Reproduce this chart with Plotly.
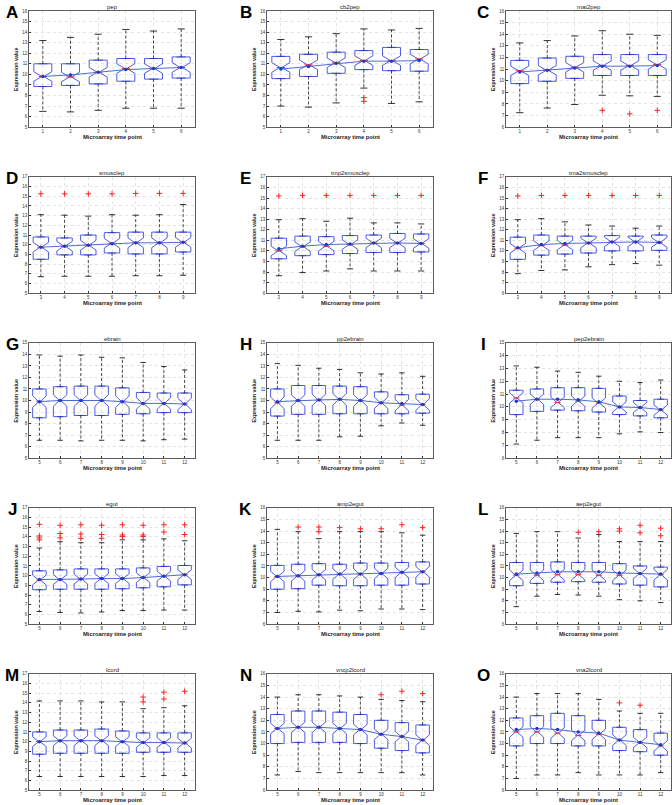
import plotly.graph_objects as go

# ---------------- data ----------------
# A: pep
pep_time = [1, 2, 3, 4, 5, 6]
pep_upper = [13.2, 13.5, 13.8, 14.25, 14.1, 14.3]
pep_q3 = [11.0, 11.0, 11.35, 11.5, 11.5, 11.65]
pep_median = [9.8, 9.75, 10.2, 10.55, 10.55, 10.65]
pep_mean = [9.8, 9.95, 10.2, 10.45, 10.55, 10.65]
pep_q1 = [8.85, 8.95, 9.1, 9.35, 9.55, 9.65]
pep_lower = [6.5, 6.45, 6.6, 6.8, 6.8, 6.8]
pep_outliers = [[], [], [], [], [], []]

# B: cb2pep
cb2pep_time = [1, 2, 3, 4, 5, 6]
cb2pep_upper = [13.3, 13.55, 13.85, 14.3, 14.2, 14.35]
cb2pep_q3 = [11.7, 11.9, 12.1, 12.25, 12.55, 12.35]
cb2pep_median = [10.65, 10.9, 11.1, 11.3, 11.3, 11.45]
cb2pep_mean = [10.5, 10.75, 11.05, 11.25, 11.25, 11.3]
cb2pep_q1 = [9.6, 9.8, 10.1, 10.45, 10.35, 10.3]
cb2pep_lower = [7.0, 6.9, 7.3, 8.7, 7.25, 7.4]
cb2pep_outliers = [[], [], [], [7.8, 7.45], [], []]

# C: mat2pep
mat2pep_time = [1, 2, 3, 4, 5, 6]
mat2pep_upper = [13.25, 13.45, 13.85, 14.3, 14.0, 13.9]
mat2pep_q3 = [11.75, 11.95, 12.1, 12.25, 12.25, 12.25]
mat2pep_median = [10.85, 10.9, 11.15, 11.3, 11.3, 11.4]
mat2pep_mean = [10.75, 10.9, 11.1, 11.25, 11.25, 11.3]
mat2pep_q1 = [9.75, 9.95, 10.2, 10.45, 10.45, 10.45]
mat2pep_lower = [7.25, 7.65, 7.95, 8.75, 8.7, 8.65]
mat2pep_outliers = [[], [], [], [7.45], [7.15], [7.45]]

# D: smusclep
smusclep_time = [3, 4, 5, 6, 7, 8, 9]
smusclep_upper = [13.1, 13.05, 12.95, 13.1, 13.05, 13.1, 14.15]
smusclep_q3 = [10.8, 10.7, 11.0, 11.25, 11.3, 11.3, 11.3]
smusclep_median = [9.75, 9.85, 9.95, 10.15, 10.2, 10.2, 10.25]
smusclep_mean = [9.75, 9.85, 9.95, 10.1, 10.2, 10.2, 10.25]
smusclep_q1 = [8.5, 8.95, 8.95, 9.15, 9.05, 9.05, 9.25]
smusclep_lower = [6.7, 6.75, 6.75, 6.75, 6.8, 6.8, 6.85]
smusclep_outliers = [[15.25], [15.25], [15.25], [15.25], [15.3], [15.3], [15.3]]

# E: tmp2smusclep
tmp2_time = [3, 4, 5, 6, 7, 8, 9]
tmp2_upper = [12.95, 13.05, 12.8, 13.1, 12.65, 12.65, 12.55]
tmp2_q3 = [11.2, 11.4, 11.35, 11.45, 11.5, 11.65, 11.6]
tmp2_median = [10.0, 10.4, 10.45, 10.6, 10.75, 10.75, 10.7]
tmp2_mean = [10.2, 10.45, 10.6, 10.65, 10.75, 10.75, 10.7]
tmp2_q1 = [9.25, 9.55, 9.65, 9.75, 9.85, 9.85, 9.9]
tmp2_lower = [7.65, 7.95, 8.1, 8.3, 8.1, 8.1, 8.1]
tmp2_outliers = [[15.2], [15.25], [15.25], [15.25], [15.25], [15.25], [15.25]]

# F: tma2smusclep
tma2_time = [3, 4, 5, 6, 7, 8, 9]
tma2_upper = [12.95, 13.05, 12.75, 12.45, 12.35, 12.15, 12.35]
tma2_q3 = [11.3, 11.5, 11.4, 11.4, 11.45, 11.4, 11.5]
tma2_median = [10.25, 10.5, 10.55, 10.75, 10.85, 10.85, 10.8]
tma2_mean = [10.3, 10.6, 10.7, 10.75, 10.85, 10.85, 10.8]
tma2_q1 = [9.2, 9.6, 9.7, 9.8, 10.0, 10.0, 10.05]
tma2_lower = [7.85, 8.15, 8.2, 8.5, 8.7, 8.8, 8.65]
tma2_outliers = [[15.2], [15.25], [15.25], [15.25], [15.25], [15.25], [15.25]]

# G: ebrain
ebrain_time = [5, 6, 7, 8, 9, 10, 11, 12]
ebrain_upper = [13.95, 13.85, 13.95, 13.75, 13.7, 13.3, 12.95, 12.65]
ebrain_q3 = [11.0, 11.2, 11.25, 11.25, 11.1, 10.7, 10.65, 10.65]
ebrain_median = [9.9, 10.0, 10.0, 10.0, 9.9, 9.75, 9.75, 9.7]
ebrain_mean = [9.9, 10.0, 10.0, 10.0, 9.9, 9.75, 9.75, 9.7]
ebrain_q1 = [8.5, 8.6, 8.7, 8.7, 8.8, 8.85, 8.95, 8.95]
ebrain_lower = [6.55, 6.55, 6.5, 6.55, 6.55, 6.5, 6.6, 6.65]
ebrain_outliers = [[], [], [], [], [], [], [], []]

# H: pp2ebrain
pp2_time = [5, 6, 7, 8, 9, 10, 11, 12]
pp2_upper = [13.2, 13.05, 12.8, 12.7, 12.4, 12.3, 12.4, 12.1]
pp2_q3 = [11.0, 11.3, 11.3, 11.25, 11.2, 10.75, 10.5, 10.55]
pp2_median = [9.8, 10.0, 10.05, 10.1, 10.0, 9.8, 9.6, 9.65]
pp2_mean = [9.9, 10.0, 10.05, 10.1, 10.0, 9.8, 9.75, 9.65]
pp2_q1 = [8.65, 8.8, 8.8, 8.85, 8.85, 8.85, 8.85, 8.9]
pp2_lower = [6.55, 6.55, 6.55, 6.85, 6.9, 7.8, 8.05, 7.85]
pp2_outliers = [[], [], [], [], [], [], [], []]

# I: pep2ebrain
pep2_time = [5, 6, 7, 8, 9, 10, 11, 12]
pep2_upper = [13.2, 13.1, 12.8, 12.7, 12.4, 12.0, 11.9, 12.1]
pep2_q3 = [11.3, 11.4, 11.5, 11.5, 11.45, 10.85, 10.5, 10.6]
pep2_median = [10.7, 10.6, 10.35, 10.45, 10.3, 10.0, 9.95, 9.75]
pep2_mean = [10.45, 10.6, 10.6, 10.55, 10.4, 10.0, 9.95, 9.8]
pep2_q1 = [9.4, 9.65, 9.75, 9.7, 9.6, 9.4, 9.3, 9.15]
pep2_lower = [7.1, 7.4, 7.6, 7.6, 7.6, 7.9, 8.05, 8.0]
pep2_outliers = [[], [], [], [], [], [], [], []]

# J: egut
egut_time = [5, 6, 7, 8, 9, 10, 11, 12]
egut_upper = [12.85, 13.5, 13.4, 13.4, 13.7, 13.7, 13.8, 13.6]
egut_q3 = [10.5, 10.6, 10.7, 10.7, 10.7, 10.8, 10.95, 11.05]
egut_median = [9.55, 9.6, 9.65, 9.7, 9.7, 9.8, 9.95, 10.1]
egut_mean = [9.6, 9.6, 9.65, 9.7, 9.7, 9.8, 9.95, 10.1]
egut_q1 = [8.55, 8.6, 8.6, 8.6, 8.65, 8.75, 8.85, 9.05]
egut_lower = [6.3, 6.2, 6.15, 6.25, 6.4, 6.4, 6.45, 6.45]
egut_outliers = [[15.3, 14.1, 13.9, 13.7], [15.2, 14.35, 13.9], [15.25, 14.3, 13.85],
                 [15.2, 14.25, 13.85], [15.25, 14.2, 14.05], [15.2, 14.2, 14.05],
                 [15.25, 14.5], [15.25, 14.25]]

# K: amp2egut
amp2_time = [5, 6, 7, 8, 9, 10, 11, 12]
amp2_upper = [14.15, 13.95, 13.35, 13.95, 13.95, 13.95, 13.85, 13.65]
amp2_q3 = [11.05, 11.15, 11.2, 11.15, 11.25, 11.25, 11.3, 11.35]
amp2_median = [10.1, 10.15, 10.25, 10.3, 10.3, 10.35, 10.45, 10.5]
amp2_mean = [10.1, 10.15, 10.25, 10.3, 10.3, 10.35, 10.45, 10.5]
amp2_q1 = [9.0, 9.05, 9.35, 9.3, 9.3, 9.35, 9.35, 9.45]
amp2_lower = [7.0, 7.1, 7.05, 7.2, 7.15, 7.3, 7.3, 7.25]
amp2_outliers = [[], [14.35], [14.35, 13.95], [14.3], [14.2], [14.2], [14.55], [14.3]]

# L: aep2egut
aep2_time = [5, 6, 7, 8, 9, 10, 11, 12]
aep2_upper = [13.8, 13.95, 13.95, 13.4, 13.7, 13.1, 13.1, 13.1]
aep2_q3 = [11.3, 11.3, 11.35, 11.3, 11.3, 11.2, 11.0, 10.9]
aep2_median = [10.2, 10.2, 10.25, 10.25, 10.2, 10.2, 10.35, 10.25]
aep2_mean = [10.3, 10.4, 10.5, 10.5, 10.5, 10.4, 10.35, 10.3]
aep2_q1 = [9.3, 9.5, 9.6, 9.65, 9.6, 9.45, 9.35, 9.2]
aep2_lower = [7.5, 8.4, 8.55, 8.5, 8.4, 8.1, 8.0, 7.85]
aep2_outliers = [[], [], [], [13.9], [13.95], [14.2, 14.0], [14.5, 13.85], [14.25, 13.6]]

# M: lcord
lcord_time = [5, 6, 7, 8, 9, 10, 11, 12]
lcord_upper = [14.2, 14.2, 14.2, 14.1, 14.1, 13.4, 13.5, 13.7]
lcord_q3 = [11.0, 11.2, 11.2, 11.3, 11.1, 10.9, 10.9, 10.9]
lcord_median = [10.0, 10.1, 10.1, 10.1, 10.0, 9.9, 9.9, 9.85]
lcord_mean = [10.0, 10.1, 10.1, 10.1, 10.0, 9.9, 9.9, 9.85]
lcord_q1 = [8.7, 8.8, 8.8, 8.8, 8.8, 8.9, 8.9, 8.9]
lcord_lower = [6.4, 6.4, 6.4, 6.4, 6.4, 6.4, 6.5, 6.5]
lcord_outliers = [[], [], [], [], [], [14.6, 14.1], [15.1, 14.4], [15.2]]

# N: vncp2lcord
vncp2_time = [5, 6, 7, 8, 9, 10, 11, 12]
vncp2_upper = [14.0, 14.2, 14.2, 14.1, 14.0, 13.8, 13.7, 13.6]
vncp2_q3 = [12.5, 12.8, 12.8, 12.7, 12.5, 12.0, 11.8, 11.6]
vncp2_median = [11.3, 11.4, 11.4, 11.3, 11.2, 10.8, 10.6, 10.3]
vncp2_mean = [11.3, 11.4, 11.4, 11.3, 11.2, 10.8, 10.6, 10.3]
vncp2_q1 = [10.0, 10.1, 10.1, 10.1, 10.0, 9.6, 9.4, 9.2]
vncp2_lower = [7.3, 7.6, 7.5, 7.5, 7.5, 7.5, 7.5, 7.3]
vncp2_outliers = [[], [], [], [], [], [14.2], [14.5], [14.3]]

# O: vna2lcord
vna2_time = [5, 6, 7, 8, 9, 10, 11, 12]
vna2_upper = [14.0, 14.3, 14.3, 14.3, 13.8, 12.8, 12.6, 12.6]
vna2_q3 = [12.2, 12.4, 12.6, 12.4, 12.0, 11.4, 11.2, 10.9]
vna2_median = [11.0, 11.0, 10.9, 10.7, 10.8, 10.3, 10.1, 9.8]
vna2_mean = [11.2, 11.3, 11.2, 11.0, 10.9, 10.3, 10.1, 9.9]
vna2_q1 = [9.8, 10.0, 10.0, 9.8, 9.8, 9.4, 9.3, 9.0]
vna2_lower = [7.0, 7.3, 7.3, 7.5, 7.3, 7.3, 7.3, 7.5]
vna2_outliers = [[], [], [], [], [], [13.5], [13.3], []]

PANELS = [
    dict(letter="A", name="pep", t=pep_time, up=pep_upper, q3=pep_q3, med=pep_median, mean=pep_mean,
         q1=pep_q1, low=pep_lower, out=pep_outliers, notch=0.45, yr=[5, 16]),
    dict(letter="B", name="cb2pep", t=cb2pep_time, up=cb2pep_upper, q3=cb2pep_q3, med=cb2pep_median,
         mean=cb2pep_mean, q1=cb2pep_q1, low=cb2pep_lower, out=cb2pep_outliers, notch=0.45, yr=[5, 16]),
    dict(letter="C", name="mat2pep", t=mat2pep_time, up=mat2pep_upper, q3=mat2pep_q3, med=mat2pep_median,
         mean=mat2pep_mean, q1=mat2pep_q1, low=mat2pep_lower, out=mat2pep_outliers, notch=0.4, yr=[6, 16]),
    dict(letter="D", name="smusclep", t=smusclep_time, up=smusclep_upper, q3=smusclep_q3,
         med=smusclep_median, mean=smusclep_mean, q1=smusclep_q1, low=smusclep_lower,
         out=smusclep_outliers, notch=0.5, yr=[5, 17]),
    dict(letter="E", name="tmp2smusclep", t=tmp2_time, up=tmp2_upper, q3=tmp2_q3, med=tmp2_median,
         mean=tmp2_mean, q1=tmp2_q1, low=tmp2_lower, out=tmp2_outliers, notch=0.45, yr=[6, 17]),
    dict(letter="F", name="tma2smusclep", t=tma2_time, up=tma2_upper, q3=tma2_q3, med=tma2_median,
         mean=tma2_mean, q1=tma2_q1, low=tma2_lower, out=tma2_outliers, notch=0.45, yr=[6, 17]),
    dict(letter="G", name="ebrain", t=ebrain_time, up=ebrain_upper, q3=ebrain_q3, med=ebrain_median,
         mean=ebrain_mean, q1=ebrain_q1, low=ebrain_lower, out=ebrain_outliers, notch=0.5, yr=[5, 15]),
    dict(letter="H", name="pp2ebrain", t=pp2_time, up=pp2_upper, q3=pp2_q3, med=pp2_median,
         mean=pp2_mean, q1=pp2_q1, low=pp2_lower, out=pp2_outliers, notch=0.5, yr=[5, 15]),
    dict(letter="I", name="pep2ebrain", t=pep2_time, up=pep2_upper, q3=pep2_q3, med=pep2_median,
         mean=pep2_mean, q1=pep2_q1, low=pep2_lower, out=pep2_outliers, notch=0.4, yr=[6, 15]),
    dict(letter="J", name="egut", t=egut_time, up=egut_upper, q3=egut_q3, med=egut_median,
         mean=egut_mean, q1=egut_q1, low=egut_lower, out=egut_outliers, notch=0.5, yr=[5, 17]),
    dict(letter="K", name="amp2egut", t=amp2_time, up=amp2_upper, q3=amp2_q3, med=amp2_median,
         mean=amp2_mean, q1=amp2_q1, low=amp2_lower, out=amp2_outliers, notch=0.45, yr=[6, 16]),
    dict(letter="L", name="aep2egut", t=aep2_time, up=aep2_upper, q3=aep2_q3, med=aep2_median,
         mean=aep2_mean, q1=aep2_q1, low=aep2_lower, out=aep2_outliers, notch=0.45, yr=[6, 16]),
    dict(letter="M", name="lcord", t=lcord_time, up=lcord_upper, q3=lcord_q3, med=lcord_median,
         mean=lcord_mean, q1=lcord_q1, low=lcord_lower, out=lcord_outliers, notch=0.5, yr=[5, 17]),
    dict(letter="N", name="vncp2lcord", t=vncp2_time, up=vncp2_upper, q3=vncp2_q3, med=vncp2_median,
         mean=vncp2_mean, q1=vncp2_q1, low=vncp2_lower, out=vncp2_outliers, notch=0.45, yr=[6, 16]),
    dict(letter="O", name="vna2lcord", t=vna2_time, up=vna2_upper, q3=vna2_q3, med=vna2_median,
         mean=vna2_mean, q1=vna2_q1, low=vna2_lower, out=vna2_outliers, notch=0.45, yr=[6, 16]),
]

# ---------------- layout geometry (pixels) ----------------
W, H = 672, 805
COLS = [(29, 195), (267, 433), (506, 671)]
ROWS = [(9, 126), (176, 293), (343, 459), (509, 626), (676, 793)]
LETTER_X = [12, 246, 483]

BOX_BLUE = "#2336d8"
MEAN_BLUE = "#3a5ad0"
FONT = "Liberation Sans, Arial, sans-serif"
BOXW = 0.65
CAPHW = 0.13
NOTCHW = 0.45


def px_x(px):
    return px / W


def px_y(py):
    return 1 - py / H


fig = go.Figure()
annotations = []
layout_axes = {}

for i, p in enumerate(PANELS):
    r, c = divmod(i, 3)
    x0, x1 = COLS[c]
    y0, y1 = ROWS[r]
    xa = "x" if i == 0 else f"x{i + 1}"
    ya = "y" if i == 0 else f"y{i + 1}"
    xkey = "xaxis" if i == 0 else f"xaxis{i + 1}"
    ykey = "yaxis" if i == 0 else f"yaxis{i + 1}"
    t = p["t"]
    n = len(t)

    # whiskers (dashed)
    wx, wy = [], []
    for k in range(n):
        wx += [t[k], t[k], None, t[k], t[k], None]
        wy += [p["q3"][k], p["up"][k], None, p["q1"][k], p["low"][k], None]
    fig.add_trace(go.Scatter(x=wx, y=wy, mode="lines", xaxis=xa, yaxis=ya,
                             line=dict(color="black", width=0.7, dash="3px,2px"),
                             showlegend=False, hoverinfo="skip"))
    # whisker caps
    cx, cy = [], []
    for k in range(n):
        cx += [t[k] - CAPHW, t[k] + CAPHW, None, t[k] - CAPHW, t[k] + CAPHW, None]
        cy += [p["up"][k], p["up"][k], None, p["low"][k], p["low"][k], None]
    fig.add_trace(go.Scatter(x=cx, y=cy, mode="lines", xaxis=xa, yaxis=ya,
                             line=dict(color="black", width=0.8),
                             showlegend=False, hoverinfo="skip"))
    # notched boxes
    fig.add_trace(go.Box(x=t, q1=p["q1"], median=p["med"], q3=p["q3"],
                         lowerfence=p["q1"], upperfence=p["q3"],
                         notchspan=[p["notch"]] * n, notched=True, notchwidth=NOTCHW,
                         width=BOXW, line=dict(color=BOX_BLUE, width=0.8),
                         fillcolor="rgba(0,0,0,0)", boxpoints=False,
                         xaxis=xa, yaxis=ya, showlegend=False, hoverinfo="skip"))
    # medians in red
    mx, my = [], []
    half = BOXW * NOTCHW / 2
    for k in range(n):
        mx += [t[k] - half, t[k] + half, None]
        my += [p["med"][k], p["med"][k], None]
    fig.add_trace(go.Scatter(x=mx, y=my, mode="lines", xaxis=xa, yaxis=ya,
                             line=dict(color="#ff2020", width=1.0),
                             showlegend=False, hoverinfo="skip"))
    # outliers
    ox, oy = [], []
    for k in range(n):
        for v in p["out"][k]:
            ox.append(t[k])
            oy.append(v)
    if ox:
        fig.add_trace(go.Scatter(x=ox, y=oy, mode="markers", xaxis=xa, yaxis=ya,
                                 marker=dict(symbol="cross-thin", size=4,
                                             line=dict(color="#ff2020", width=1)),
                                 showlegend=False, hoverinfo="skip"))
    # mean line
    fig.add_trace(go.Scatter(x=t, y=p["mean"], mode="lines+markers", xaxis=xa, yaxis=ya,
                             line=dict(color=MEAN_BLUE, width=0.9),
                             marker=dict(color="#1f3cc0", size=3.5),
                             showlegend=False, hoverinfo="skip"))

    axis_common = dict(showline=True, mirror=True, linecolor="#333333", linewidth=0.8,
                       showgrid=True, gridcolor="#d0d0d0", griddash="dot", gridwidth=0.6,
                       zeroline=False, ticks="inside", ticklen=2, tickcolor="#333333",
                       tickfont=dict(family=FONT, size=4.5, color="#333333"), dtick=1)
    layout_axes[xkey] = dict(axis_common, domain=[px_x(x0), px_x(x1)], anchor=ya,
                             range=[t[0] - 0.5, t[-1] + 0.5], tickvals=t)
    layout_axes[ykey] = dict(axis_common, domain=[px_y(y1), px_y(y0)], anchor=xa,
                             range=p["yr"])

    # texts
    xm = px_x((x0 + x1) / 2)
    common = dict(xref="paper", yref="paper", showarrow=False,
                  xanchor="center", yanchor="middle")
    annotations.append(dict(common, text=p["name"], x=xm, y=px_y(y0 - 4),
                            font=dict(family=FONT, size=6, color="#222")))
    annotations.append(dict(common, text="<b>Microarray time point</b>", x=xm, y=px_y(y1 + 10),
                            font=dict(family=FONT, size=5.8, color="#222")))
    annotations.append(dict(common, text="<b>Expression value</b>", x=px_x(x0 - 13),
                            y=px_y((y0 + y1) / 2), textangle=-90,
                            font=dict(family=FONT, size=5.3, color="#222")))
    annotations.append(dict(common, text="<b>" + p["letter"] + "</b>", x=px_x(LETTER_X[c]),
                            y=px_y(y0 + 2),
                            font=dict(family=FONT, size=17, color="black")))

fig.update_layout(width=W, height=H, margin=dict(l=0, r=0, t=0, b=0),
                  paper_bgcolor="white", plot_bgcolor="white",
                  annotations=annotations, **layout_axes)
fig.write_html("out.html", config={"displayModeBar": False, "staticPlot": True},
               post_script="document.body.style.margin='0';"
                           "document.body.style.overflow='hidden';")
